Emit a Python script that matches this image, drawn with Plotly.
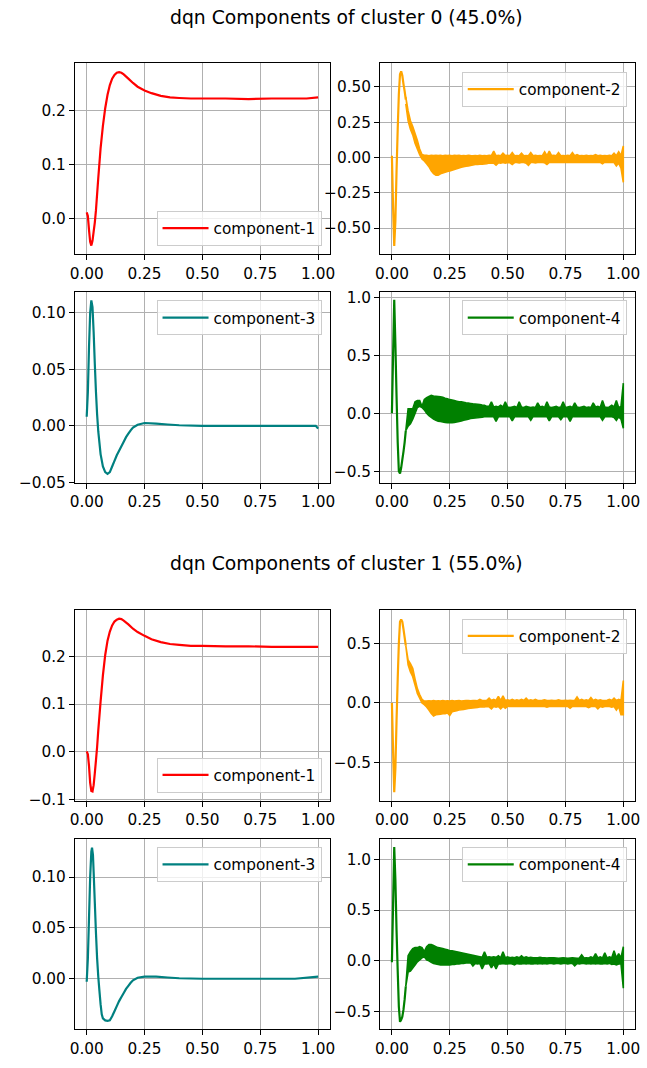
import plotly.graph_objects as go

# ---------------- data ----------------
x_tick_vals = [0.0, 0.25, 0.5, 0.75, 1.0]
x_tick_text = ["0.00", "0.25", "0.50", "0.75", "1.00"]

titles = ["dqn Components of cluster 0 (45.0%)", "dqn Components of cluster 1 (55.0%)"]
names = ["component-1", "component-2", "component-3", "component-4"]
colors = ["red", "orange", "teal", "green"]

# component-1 / component-3 (smooth curves)
x_c1a = [0.0, 0.005, 0.01, 0.015, 0.02, 0.025, 0.03, 0.035, 0.04, 0.05, 0.06, 0.07, 0.08, 0.09,
         0.10, 0.11, 0.12, 0.13, 0.14, 0.15, 0.16, 0.18, 0.20, 0.22, 0.25, 0.28, 0.32, 0.36,
         0.40, 0.45, 0.50, 0.60, 0.70, 0.80, 0.90, 0.95, 1.0]
y_c1a = [0.011, 0.004, -0.022, -0.044, -0.051, -0.042, -0.025, -0.008, 0.015, 0.075, 0.13, 0.172,
         0.205, 0.23, 0.248, 0.26, 0.267, 0.271, 0.272, 0.271, 0.268, 0.26, 0.252, 0.245, 0.238,
         0.233, 0.228, 0.225, 0.224, 0.223, 0.223, 0.223, 0.222, 0.223, 0.223, 0.223, 0.225]

x_c1b = [0.0, 0.005, 0.01, 0.015, 0.02, 0.025, 0.03, 0.035, 0.04, 0.045, 0.05, 0.06, 0.07, 0.08,
         0.09, 0.10, 0.11, 0.12, 0.13, 0.14, 0.15, 0.16, 0.18, 0.20, 0.22, 0.25, 0.28, 0.32,
         0.36, 0.40, 0.45, 0.50, 0.60, 0.70, 0.80, 0.90, 1.0]
y_c1b = [0.001, -0.005, -0.03, -0.065, -0.082, -0.083, -0.07, -0.045, -0.018, 0.01, 0.045, 0.105,
         0.16, 0.203, 0.233, 0.252, 0.265, 0.273, 0.277, 0.279, 0.278, 0.275, 0.267, 0.258, 0.251,
         0.243, 0.236, 0.23, 0.226, 0.224, 0.222, 0.222, 0.221, 0.221, 0.220, 0.220, 0.220]

x_c3a = [0.0, 0.005, 0.01, 0.015, 0.02, 0.025, 0.03, 0.035, 0.04, 0.045, 0.05, 0.06, 0.07, 0.08,
         0.09, 0.10, 0.11, 0.12, 0.13, 0.14, 0.15, 0.16, 0.17, 0.18, 0.19, 0.20, 0.22, 0.25,
         0.30, 0.35, 0.40, 0.50, 0.60, 0.70, 0.80, 0.90, 0.99, 1.0]
y_c3a = [0.008, 0.03, 0.07, 0.1, 0.111, 0.105, 0.083, 0.055, 0.03, 0.01, -0.005, -0.025, -0.036,
         -0.041, -0.0425, -0.041, -0.036, -0.031, -0.026, -0.022, -0.018, -0.014, -0.01, -0.007,
         -0.004, -0.0015, 0.001, 0.0025, 0.002, 0.0012, 0.0005, 0.0, 0.0, 0.0, 0.0, 0.0, 0.0, -0.0025]

x_c3b = [0.0, 0.005, 0.01, 0.015, 0.02, 0.023, 0.027, 0.03, 0.035, 0.04, 0.045, 0.05, 0.055, 0.06,
         0.065, 0.07, 0.08, 0.09, 0.10, 0.11, 0.12, 0.13, 0.14, 0.15, 0.16, 0.17, 0.18, 0.19,
         0.20, 0.22, 0.25, 0.30, 0.35, 0.40, 0.50, 0.60, 0.70, 0.80, 0.90, 1.0]
y_c3b = [-0.003, 0.02, 0.06, 0.1, 0.125, 0.129, 0.122, 0.105, 0.075, 0.045, 0.02, 0.002, -0.012,
         -0.025, -0.035, -0.039, -0.041, -0.0415, -0.041, -0.037, -0.032, -0.027, -0.022, -0.018,
         -0.014, -0.01, -0.007, -0.004, -0.0015, 0.001, 0.002, 0.002, 0.0012, 0.0005, 0.0, 0.0,
         0.0, 0.0, 0.0, 0.002]

# component-2 / component-4: the initial swing as a single line ...
x_head = [0.0, 0.005, 0.01, 0.015, 0.02, 0.025, 0.03, 0.035, 0.04, 0.045, 0.05, 0.055, 0.06]
y_c2a_head = [0.012, -0.35, -0.627, -0.45, -0.10, 0.20, 0.45, 0.59, 0.61, 0.58, 0.52, 0.47, 0.41]
y_c4a_head = [0.0, 0.50, 0.98, 0.60, 0.15, -0.25, -0.50, -0.52, -0.47, -0.40, -0.33, -0.25, -0.15]
y_c2b_head = [0.0, -0.40, -0.75, -0.55, -0.15, 0.20, 0.50, 0.68, 0.70, 0.68, 0.62, 0.55, 0.48]
y_c4b_head = [-0.013, 0.55, 1.12, 0.80, 0.30, -0.10, -0.45, -0.60, -0.58, -0.55, -0.48, -0.38, -0.25]

# ... then the noisy part, as upper / lower envelopes of the fast oscillation
x_band = [0.06, 0.07, 0.08, 0.09, 0.10, 0.11, 0.12, 0.13, 0.14, 0.15,
          0.16, 0.17, 0.18, 0.19, 0.20, 0.21, 0.22, 0.23, 0.24, 0.25,
          0.26, 0.27, 0.28, 0.29, 0.30, 0.31, 0.32, 0.33, 0.34, 0.35,
          0.36, 0.37, 0.38, 0.39, 0.40, 0.41, 0.42, 0.43, 0.44, 0.45,
          0.46, 0.47, 0.48, 0.49, 0.50, 0.51, 0.52, 0.53, 0.54, 0.55,
          0.56, 0.57, 0.58, 0.59, 0.60, 0.61, 0.62, 0.63, 0.64, 0.65,
          0.66, 0.67, 0.68, 0.69, 0.70, 0.71, 0.72, 0.73, 0.74, 0.75,
          0.76, 0.77, 0.78, 0.79, 0.80, 0.81, 0.82, 0.83, 0.84, 0.85,
          0.86, 0.87, 0.88, 0.89, 0.90, 0.91, 0.92, 0.93, 0.94, 0.95,
          0.96, 0.97, 0.98, 0.99, 1.0]

y_c2a_hi = [0.43, 0.33, 0.26, 0.22, 0.17, 0.12, 0.06, 0.02, 0.015, 0.015,
            0.012, 0.015, 0.014, 0.016, 0.013, 0.015, 0.012, 0.016, 0.013, 0.015,
            0.012, 0.015, 0.013, 0.016, 0.012, 0.014, 0.012, 0.015, 0.013, 0.012,
            0.014, 0.012, 0.016, 0.012, 0.014, 0.012, 0.015, 0.013, 0.045, 0.012,
            0.015, 0.012, 0.03, 0.013, 0.015, 0.012, 0.035, 0.012, 0.014, 0.012,
            0.03, 0.012, 0.014, 0.012, 0.035, 0.012, 0.015, 0.012, 0.014, 0.012,
            0.04, 0.012, 0.045, 0.013, 0.015, 0.012, 0.035, 0.012, 0.014, 0.012,
            0.015, 0.012, 0.035, 0.012, 0.02, 0.012, 0.014, 0.012, 0.015, 0.012,
            0.014, 0.012, 0.02, 0.012, 0.015, 0.012, 0.014, 0.012, 0.015, 0.012,
            0.03, 0.012, 0.04, 0.012, 0.082]
y_c2a_lo = [0.38, 0.26, 0.20, 0.16, 0.10, 0.06, 0.02, -0.01, -0.025, -0.045,
            -0.065, -0.095, -0.115, -0.125, -0.125, -0.115, -0.11, -0.105, -0.10, -0.095,
            -0.09, -0.085, -0.08, -0.075, -0.07, -0.066, -0.062, -0.06, -0.056, -0.053,
            -0.05, -0.05, -0.048, -0.047, -0.046, -0.045, -0.04, -0.04, -0.04, -0.055,
            -0.038, -0.04, -0.036, -0.04, -0.035, -0.038, -0.05, -0.036, -0.035, -0.038,
            -0.035, -0.036, -0.04, -0.055, -0.035, -0.036, -0.038, -0.035, -0.036, -0.035,
            -0.038, -0.05, -0.035, -0.036, -0.035, -0.033, -0.036, -0.035, -0.033, -0.035,
            -0.033, -0.035, -0.036, -0.033, -0.035, -0.033, -0.035, -0.033, -0.035, -0.033,
            -0.035, -0.033, -0.035, -0.033, -0.035, -0.045, -0.033, -0.035, -0.036, -0.035,
            -0.036, -0.06, -0.04, -0.075, -0.176]

y_c4a_hi = [-0.15, 0.04, 0.04, 0.04, 0.10, 0.11, 0.11, 0.06, 0.12, 0.135,
            0.145, 0.155, 0.15, 0.148, 0.145, 0.142, 0.138, 0.13, 0.125, 0.118,
            0.114, 0.11, 0.105, 0.10, 0.10, 0.095, 0.09, 0.088, 0.085, 0.082,
            0.08, 0.078, 0.075, 0.072, 0.07, 0.06, 0.06, 0.10, 0.055, 0.06,
            0.055, 0.07, 0.055, 0.10, 0.055, 0.05, 0.055, 0.06, 0.05, 0.10,
            0.055, 0.05, 0.06, 0.055, 0.05, 0.055, 0.05, 0.09, 0.055, 0.06,
            0.05, 0.10, 0.055, 0.05, 0.055, 0.06, 0.05, 0.055, 0.10, 0.05,
            0.055, 0.06, 0.05, 0.09, 0.055, 0.05, 0.055, 0.06, 0.05, 0.055,
            0.05, 0.09, 0.055, 0.06, 0.05, 0.11, 0.055, 0.05, 0.055, 0.07,
            0.055, 0.11, 0.05, 0.06, 0.26]
y_c4a_lo = [-0.15, -0.11, -0.09, -0.05, 0.0, 0.05, 0.06, 0.05, 0.03, 0.0,
            -0.02, -0.035, -0.05, -0.06, -0.068, -0.071, -0.075, -0.078, -0.08, -0.08,
            -0.08, -0.078, -0.075, -0.07, -0.065, -0.06, -0.055, -0.05, -0.045, -0.042,
            -0.04, -0.038, -0.035, -0.033, -0.03, -0.03, -0.03, -0.028, -0.03, -0.07,
            -0.03, -0.028, -0.03, -0.03, -0.028, -0.03, -0.065, -0.03, -0.028, -0.03,
            -0.03, -0.028, -0.03, -0.03, -0.06, -0.028, -0.03, -0.03, -0.028, -0.03,
            -0.03, -0.028, -0.065, -0.03, -0.028, -0.03, -0.03, -0.055, -0.028, -0.03,
            -0.03, -0.07, -0.028, -0.03, -0.03, -0.028, -0.03, -0.03, -0.028, -0.03,
            -0.03, -0.028, -0.03, -0.03, -0.028, -0.06, -0.03, -0.028, -0.03, -0.03,
            -0.035, -0.06, -0.03, -0.05, -0.128]

y_c2b_hi = [0.48, 0.36, 0.33, 0.29, 0.20, 0.12, 0.07, 0.03, 0.015, 0.015,
            0.018, 0.015, 0.02, 0.015, 0.018, 0.015, 0.02, 0.015, 0.018, 0.015,
            0.02, 0.015, 0.018, 0.02, 0.015, 0.018, 0.02, 0.02, 0.018, 0.02,
            0.02, 0.018, 0.03, 0.02, 0.02, 0.022, 0.04, 0.02, 0.03, 0.02,
            0.055, 0.02, 0.06, 0.02, 0.025, 0.02, 0.03, 0.02, 0.025, 0.02,
            0.03, 0.02, 0.04, 0.02, 0.025, 0.02, 0.03, 0.02, 0.02, 0.022,
            0.025, 0.02, 0.02, 0.022, 0.02, 0.02, 0.025, 0.02, 0.02, 0.022,
            0.02, 0.022, 0.02, 0.02, 0.05, 0.02, 0.03, 0.02, 0.025, 0.02,
            0.045, 0.02, 0.03, 0.02, 0.025, 0.02, 0.02, 0.022, 0.03, 0.02,
            0.04, 0.02, 0.03, 0.02, 0.188]
y_c2b_lo = [0.48, 0.32, 0.26, 0.22, 0.15, 0.08, 0.04, 0.0, -0.015, -0.035,
            -0.06, -0.09, -0.11, -0.10, -0.097, -0.095, -0.09, -0.09, -0.085, -0.105,
            -0.075, -0.07, -0.065, -0.06, -0.058, -0.055, -0.05, -0.047, -0.045, -0.042,
            -0.04, -0.038, -0.035, -0.035, -0.033, -0.03, -0.033, -0.05, -0.03, -0.035,
            -0.03, -0.05, -0.03, -0.045, -0.03, -0.028, -0.03, -0.03, -0.028, -0.03,
            -0.03, -0.028, -0.03, -0.03, -0.028, -0.03, -0.03, -0.028, -0.03, -0.03,
            -0.03, -0.035, -0.03, -0.028, -0.03, -0.03, -0.028, -0.03, -0.03, -0.028,
            -0.03, -0.045, -0.03, -0.028, -0.03, -0.03, -0.028, -0.03, -0.03, -0.04,
            -0.03, -0.028, -0.03, -0.05, -0.03, -0.035, -0.03, -0.028, -0.03, -0.035,
            -0.03, -0.06, -0.03, -0.10, -0.10]

y_c4b_hi = [-0.25, 0.05, 0.09, 0.12, 0.13, 0.13, 0.14, 0.13, 0.09, 0.14,
            0.16, 0.16, 0.15, 0.14, 0.13, 0.125, 0.12, 0.115, 0.11, 0.10,
            0.10, 0.095, 0.09, 0.085, 0.08, 0.075, 0.07, 0.065, 0.06, 0.055,
            0.05, 0.045, 0.04, 0.035, 0.09, 0.035, 0.04, 0.035, 0.04, 0.035,
            0.05, 0.03, 0.09, 0.03, 0.04, 0.03, 0.035, 0.03, 0.04, 0.03,
            0.05, 0.03, 0.04, 0.03, 0.035, 0.03, 0.03, 0.03, 0.035, 0.03,
            0.03, 0.028, 0.03, 0.03, 0.03, 0.028, 0.025, 0.028, 0.03, 0.028,
            0.025, 0.028, 0.03, 0.028, 0.025, 0.028, 0.06, 0.028, 0.03, 0.028,
            0.04, 0.028, 0.07, 0.028, 0.04, 0.028, 0.08, 0.028, 0.04, 0.03,
            0.10, 0.03, 0.07, 0.03, 0.14]
y_c4b_lo = [-0.25, -0.11, -0.10, -0.07, -0.04, -0.01, 0.01, 0.03, 0.04, 0.01,
            0.0, -0.015, -0.025, -0.03, -0.035, -0.04, -0.04, -0.04, -0.04, -0.04,
            -0.035, -0.035, -0.03, -0.03, -0.025, -0.025, -0.02, -0.02, -0.02, -0.05,
            -0.025, -0.03, -0.025, -0.08, -0.03, -0.03, -0.025, -0.07, -0.03, -0.08,
            -0.03, -0.03, -0.025, -0.03, -0.03, -0.025, -0.03, -0.04, -0.025, -0.03,
            -0.03, -0.025, -0.03, -0.025, -0.03, -0.03, -0.025, -0.03, -0.025, -0.03,
            -0.025, -0.03, -0.025, -0.025, -0.03, -0.025, -0.025, -0.03, -0.025, -0.025,
            -0.03, -0.025, -0.025, -0.05, -0.025, -0.03, -0.025, -0.025, -0.03, -0.025,
            -0.03, -0.025, -0.03, -0.025, -0.03, -0.03, -0.025, -0.03, -0.025, -0.035,
            -0.03, -0.04, -0.03, -0.03, -0.27]

# y-axis ranges and ticks per panel
yr_c1a, yv_c1a, yt_c1a = [-0.0669, 0.2886], [0.0, 0.1, 0.2], ["0.0", "0.1", "0.2"]
yr_c2a, yv_c2a, yt_c2a = [-0.685, 0.667], [-0.5, -0.25, 0.0, 0.25, 0.5], ["\u22120.50", "\u22120.25", "0.00", "0.25", "0.50"]
yr_c3a, yv_c3a, yt_c3a = [-0.0502, 0.1187], [-0.05, 0.0, 0.05, 0.1], ["\u22120.05", "0.00", "0.05", "0.10"]
yr_c4a, yv_c4a, yt_c4a = [-0.597, 1.049], [-0.5, 0.0, 0.5, 1.0], ["\u22120.5", "0.0", "0.5", "1.0"]
yr_c1b, yv_c1b, yt_c1b = [-0.103, 0.297], [-0.1, 0.0, 0.1, 0.2], ["\u22120.1", "0.0", "0.1", "0.2"]
yr_c2b, yv_c2b, yt_c2b = [-0.823, 0.779], [-0.5, 0.0, 0.5], ["\u22120.5", "0.0", "0.5"]
yr_c3b, yv_c3b, yt_c3b = [-0.0498, 0.138], [0.0, 0.05, 0.1], ["0.00", "0.05", "0.10"]
yr_c4b, yv_c4b, yt_c4b = [-0.674, 1.204], [-0.5, 0.0, 0.5, 1.0], ["\u22120.5", "0.0", "0.5", "1.0"]

for arr in (y_c2a_hi, y_c2a_lo, y_c4a_hi, y_c4a_lo, y_c2b_hi, y_c2b_lo, y_c4b_hi, y_c4b_lo):
    assert len(arr) == len(x_band), len(arr)
for arr in (y_c2a_head, y_c4a_head, y_c2b_head, y_c4b_head):
    assert len(arr) == len(x_head), len(arr)

# ---------------- layout ----------------
W, H = 647, 1068
FONT = "DejaVu Sans"
FS = 15.3
LW = 2.2

col_px = [(71, 330), (381, 640)]
row_px = [(61, 254), (292, 485), (614, 807), (845, 1038)]
title_y_px = [15, 567]

# (line x, line y, band hi, band lo, component index, y range, y tick vals, y tick text, row, col, legend pos)
panels = [
    (x_c1a, y_c1a, None, None, 0, yr_c1a, yv_c1a, yt_c1a, 0, 0, "bottom"),
    (x_head, y_c2a_head, y_c2a_hi, y_c2a_lo, 1, yr_c2a, yv_c2a, yt_c2a, 0, 1, "top"),
    (x_c3a, y_c3a, None, None, 2, yr_c3a, yv_c3a, yt_c3a, 1, 0, "top"),
    (x_head, y_c4a_head, y_c4a_hi, y_c4a_lo, 3, yr_c4a, yv_c4a, yt_c4a, 1, 1, "top"),
    (x_c1b, y_c1b, None, None, 0, yr_c1b, yv_c1b, yt_c1b, 2, 0, "bottom"),
    (x_head, y_c2b_head, y_c2b_hi, y_c2b_lo, 1, yr_c2b, yv_c2b, yt_c2b, 2, 1, "top"),
    (x_c3b, y_c3b, None, None, 2, yr_c3b, yv_c3b, yt_c3b, 3, 0, "top"),
    (x_head, y_c4b_head, y_c4b_hi, y_c4b_lo, 3, yr_c4b, yv_c4b, yt_c4b, 3, 1, "top"),
]

fig = go.Figure()
layout = {}
axis_common = dict(
    showgrid=True, gridcolor="#b0b0b0", gridwidth=1.1,
    showline=True, mirror=True, linecolor="black", linewidth=1.1,
    ticks="outside", ticklen=5, tickwidth=1.1, tickcolor="black",
    zeroline=False, tickfont=dict(family=FONT, size=FS, color="black"),
)

for i, (xs, ys, hi, lo, k, yr, yv, yt, row, col, legpos) in enumerate(panels, start=1):
    sfx = "" if i == 1 else str(i)
    legname = "legend" + sfx
    if hi is not None:
        fig.add_trace(go.Scatter(
            x=x_band + x_band[::-1], y=hi + lo[::-1], mode="lines", fill="toself",
            fillcolor=colors[k], line=dict(color=colors[k], width=1.6, simplify=False),
            xaxis="x" + sfx, yaxis="y" + sfx, showlegend=False, hoverinfo="skip",
        ))
    fig.add_trace(go.Scatter(
        x=xs, y=ys, mode="lines", name=names[k],
        line=dict(color=colors[k], width=LW, simplify=False),
        xaxis="x" + sfx, yaxis="y" + sfx, legend=legname, showlegend=True,
        hoverinfo="skip",
    ))
    x0, x1 = col_px[col]
    t, b = row_px[row]
    layout["xaxis" + sfx] = dict(
        domain=[x0 / W, x1 / W], range=[-0.051, 1.051], anchor="y" + sfx,
        tickmode="array", tickvals=x_tick_vals, ticktext=x_tick_text, **axis_common)
    layout["yaxis" + sfx] = dict(
        domain=[1 - b / H, 1 - t / H], range=yr, anchor="x" + sfx,
        tickmode="array", tickvals=yv, ticktext=yt, **axis_common)
    lx = (x1 - 8.5) / W
    if legpos == "top":
        ly, ya = 1 - (t + 8.5) / H, "top"
    else:
        ly, ya = 1 - (b - 8.5) / H, "bottom"
    layout[legname] = dict(
        x=lx, xanchor="right", y=ly, yanchor=ya, itemwidth=46,
        bgcolor="rgba(255,255,255,0.8)", bordercolor="#cccccc", borderwidth=1,
        font=dict(family=FONT, size=FS, color="black"),
    )

annotations = []
for ttl, ty in zip(titles, title_y_px):
    annotations.append(dict(
        text=ttl, x=347 / W, y=1 - ty / H, xref="paper", yref="paper",
        xanchor="center", yanchor="middle", showarrow=False,
        font=dict(family=FONT, size=18.8, color="black"),
    ))

fig.update_layout(
    width=W, height=H, margin=dict(l=0, r=0, t=0, b=0),
    paper_bgcolor="white", plot_bgcolor="white",
    font=dict(family=FONT, size=FS, color="black"),
    annotations=annotations, **layout,
)

fig.write_html("out.html")
